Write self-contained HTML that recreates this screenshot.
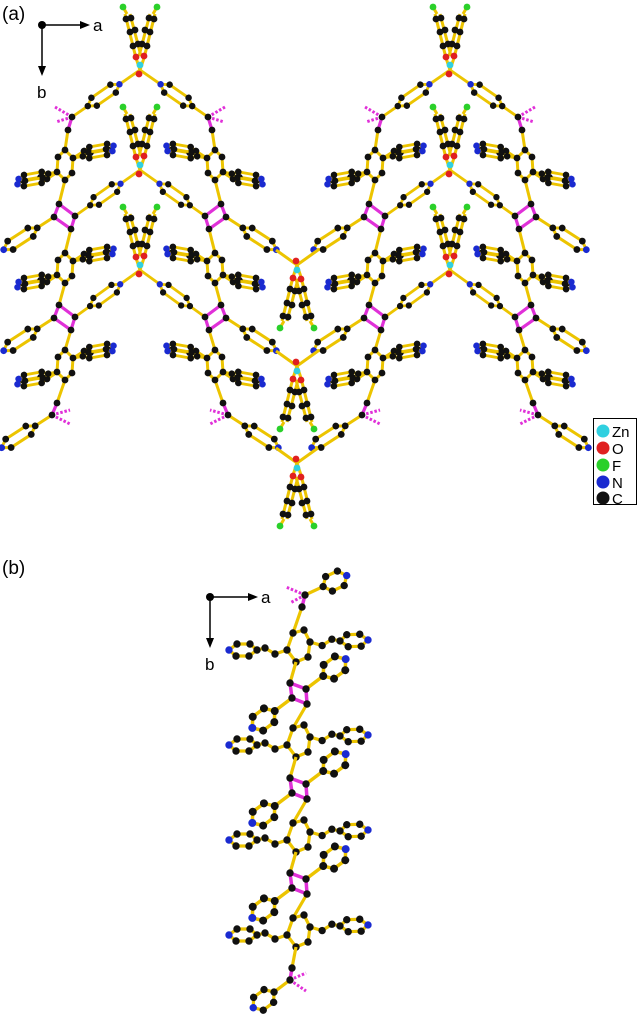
<!DOCTYPE html>
<html><head><meta charset="utf-8"><style>
html,body{margin:0;padding:0;background:#fff}
svg{display:block}
text{font-family:"Liberation Sans",sans-serif;fill:#000}
</style></head><body>
<svg width="637" height="1019" viewBox="0 0 637 1019" xmlns="http://www.w3.org/2000/svg">
<defs>
<g id="pyr">
<line x1="0" y1="0" x2="20" y2="0" stroke="#ecc400" stroke-width="3"/>
<polygon points="20,0 28,-5 52,-5 60,0 52,5 28,5" fill="none" stroke="#ecc400" stroke-width="3"/>
<g fill="#111"><circle cx="20" cy="0" r="3.4"/><circle cx="28" cy="-5" r="3.4"/><circle cx="52" cy="-5" r="3.4"/><circle cx="28" cy="5" r="3.4"/><circle cx="52" cy="5" r="3.4"/></g>
<circle cx="60" cy="0" r="3.4" fill="#1a2ad0"/>
</g>
<g id="pyrZ"><line x1="60" y1="0" x2="86" y2="0" stroke="#ecc400" stroke-width="3"/><use href="#pyr"/></g>
<g id="thin">
<polygon points="10,0 16,-3 34,-3 40,0 34,3 16,3" fill="none" stroke="#ecc400" stroke-width="2.8"/>
<g fill="#111"><circle cx="10" cy="0" r="3.3"/><circle cx="16" cy="-3" r="3.3"/><circle cx="34" cy="-3" r="3.3"/><circle cx="16" cy="3" r="3.3"/><circle cx="34" cy="3" r="3.3"/></g>
<circle cx="40" cy="0" r="3.3" fill="#1a2ad0"/>
</g>
<g id="armA">
<line x1="0" y1="0" x2="12" y2="-5" stroke="#ecc400" stroke-width="2.8"/>
<use href="#thin" transform="translate(2,-5)"/>
<line x1="0" y1="0" x2="10" y2="0" stroke="#ecc400" stroke-width="3"/>
<use href="#thin"/>
</g>
<g id="hexA">
<polygon points="0,-15 8,-7 7,8 0,15 -8,7 -7,-8" fill="none" stroke="#ecc400" stroke-width="3"/>
<use href="#armA" transform="translate(-7,7) rotate(170)"/>
<use href="#armA" transform="translate(8,-7) rotate(-10)"/>
<g fill="#111"><circle cx="0" cy="-15" r="3.4"/><circle cx="8" cy="-7" r="3.4"/><circle cx="7" cy="8" r="3.4"/><circle cx="0" cy="15" r="3.4"/><circle cx="-8" cy="7" r="3.4"/><circle cx="-7" cy="-8" r="3.4"/></g>
</g>
<g id="bbA">
<g stroke="#ecc400" stroke-width="3">
<line x1="3" y1="130" x2="0" y2="150"/><line x1="0" y1="180" x2="-6" y2="204"/><line x1="6" y1="229" x2="0" y2="253"/>
<line x1="0" y1="283" x2="-6" y2="305"/><line x1="6" y1="330" x2="0" y2="350"/><line x1="0" y1="380" x2="-8" y2="403"/>
</g>
<use href="#hexA" y="165"/><use href="#hexA" y="268"/><use href="#hexA" y="365"/>
<use href="#pyr" transform="translate(-11,217) rotate(147)"/>
<use href="#pyr" transform="translate(-11,318) rotate(147)"/>
<use href="#pyr" transform="translate(-13,415) rotate(147)"/>
<use href="#pyrZ" transform="translate(7,117) rotate(-34.6) scale(0.96)"/>
<use href="#pyrZ" transform="translate(10,216) rotate(-35.3) scale(0.93)"/>
<use href="#pyrZ" transform="translate(10,317) rotate(-35.9) scale(0.93)"/>
<g stroke="#e030d8" stroke-width="3.2" fill="none">
<line x1="3" y1="130" x2="7" y2="117"/><line x1="-8" y1="403" x2="-13" y2="415"/>
<polygon points="-6,204 10,216 6,229 -11,217"/><polygon points="-6,305 10,317 6,330 -11,318"/>
</g>
<g stroke="#e030d8" stroke-width="3" stroke-dasharray="2.5,1.8">
<line x1="7" y1="117" x2="-10" y2="107"/><line x1="7" y1="117" x2="-9" y2="122"/>
<line x1="-13" y1="415" x2="5" y2="410"/><line x1="-13" y1="415" x2="5" y2="424"/>
</g>
<g fill="#111">
<circle cx="3" cy="130" r="3.4"/><circle cx="7" cy="117" r="3.4"/><circle cx="-8" cy="403" r="3.4"/><circle cx="-13" cy="415" r="3.4"/>
<circle cx="-6" cy="204" r="3.4"/><circle cx="10" cy="216" r="3.4"/><circle cx="6" cy="229" r="3.4"/><circle cx="-11" cy="217" r="3.4"/>
<circle cx="-6" cy="305" r="3.4"/><circle cx="10" cy="317" r="3.4"/><circle cx="6" cy="330" r="3.4"/><circle cx="-11" cy="318" r="3.4"/>
</g>
</g>
<g id="lig">
<g stroke="#ecc400" stroke-width="3">
<line x1="-4" y1="-12" x2="-15" y2="-56"/><line x1="1" y1="-14" x2="-10" y2="-56"/><line x1="-13" y1="-56" x2="-17" y2="-63"/>
</g>
<g fill="#111"><circle cx="-7" cy="-24" r="3.4"/><circle cx="-2" cy="-26" r="3.4"/><circle cx="-10" cy="-38" r="3.4"/><circle cx="-5" cy="-40" r="3.4"/><circle cx="-14" cy="-51" r="3.4"/><circle cx="-9" cy="-52" r="3.4"/></g>
<circle cx="-17" cy="-63" r="3.4" fill="#2ad02a"/>
</g>
<g id="znT">
<use href="#lig"/><use href="#lig" transform="scale(-1,1)"/>
<g stroke="#ecc400" stroke-width="3"><line x1="-4" y1="-12" x2="0" y2="0"/><line x1="4" y1="-12" x2="0" y2="0"/></g>
<circle cx="-4" cy="-13" r="3.4" fill="#e02020"/><circle cx="4" cy="-14" r="3.4" fill="#e02020"/>
<circle cx="0" cy="-5" r="3.4" fill="#30d0e0"/><circle cx="-1" cy="4" r="3.4" fill="#e02020"/>
</g>
<g id="vA">
<use href="#bbA" x="65"/>
<use href="#bbA" transform="translate(215,0) scale(-1,1)"/>
<use href="#znT" x="140" y="70"/><use href="#znT" x="140" y="170"/><use href="#znT" x="140" y="270"/>
</g>
<g id="znC">
<g stroke="#ecc400" stroke-width="3"><line x1="-21" y1="-15" x2="0" y2="0"/><line x1="21" y1="-15" x2="0" y2="0"/></g>
<use href="#znT" transform="scale(1,-1)"/>
</g>
<g id="pyrB">
<line x1="0" y1="0" x2="20" y2="0" stroke="#ecc400" stroke-width="3.2"/>
<polygon points="20,0 26.5,-8 39.5,-8 46,0 39.5,8 26.5,8" fill="none" stroke="#ecc400" stroke-width="3.2"/>
<g fill="#111"><circle cx="20" cy="0" r="3.7"/><circle cx="26.5" cy="-8" r="3.7"/><circle cx="39.5" cy="-8" r="3.7"/><circle cx="39.5" cy="8" r="3.7"/><circle cx="26.5" cy="8" r="3.7"/></g>
<circle cx="46" cy="0" r="3.7" fill="#1a2ad0"/>
</g>
<g id="armB">
<polyline points="0,0 12,4 22,-2 30,0" fill="none" stroke="#ecc400" stroke-width="3.2"/>
<polygon points="30,0 37,-6 50,-6 58,0 51,6 38,6" fill="none" stroke="#ecc400" stroke-width="3.2"/>
<g fill="#111"><circle cx="12" cy="4" r="3.7"/><circle cx="22" cy="-2" r="3.7"/><circle cx="30" cy="0" r="3.7"/><circle cx="37" cy="-6" r="3.7"/><circle cx="50" cy="-6" r="3.7"/><circle cx="51" cy="6" r="3.7"/><circle cx="38" cy="6" r="3.7"/></g>
<circle cx="58" cy="0" r="3.7" fill="#1a2ad0"/>
</g>
<g id="hexB">
<polygon points="-5,-12 6,-15 12,-3 10,12 -2,17 -11,5" fill="none" stroke="#ecc400" stroke-width="3.2"/>
<use href="#armB" transform="translate(-11,5) scale(-1,1)"/>
<use href="#armB" transform="translate(12,-3) rotate(-2)"/>
<g fill="#111"><circle cx="-5" cy="-12" r="3.7"/><circle cx="6" cy="-15" r="3.7"/><circle cx="12" cy="-3" r="3.7"/><circle cx="10" cy="12" r="3.7"/><circle cx="-2" cy="17" r="3.7"/><circle cx="-11" cy="5" r="3.7"/></g>
</g>
<g id="unitB">
<use href="#hexB"/>
<g stroke="#ecc400" stroke-width="3.2"><line x1="-2" y1="17" x2="-8" y2="38"/><line x1="9" y1="59" x2="-5" y2="83"/></g>
<use href="#pyrB" transform="translate(8,44) rotate(-37) scale(1.08)"/>
<use href="#pyrB" transform="translate(-6,53) rotate(143) scale(1.08)"/>
<polygon points="-8,38 8,44 9,59 -6,53" fill="none" stroke="#e030d8" stroke-width="3.5"/>
<g fill="#111"><circle cx="-8" cy="38" r="3.7"/><circle cx="8" cy="44" r="3.7"/><circle cx="9" cy="59" r="3.7"/><circle cx="-6" cy="53" r="3.7"/></g>
</g>
</defs>

<text x="2" y="20" font-size="19">(a)</text>
<circle cx="42" cy="25" r="4" fill="#000"/>
<line x1="42" y1="25" x2="82" y2="25" stroke="#000" stroke-width="1.5"/><polygon points="90,25 80,21 80,29" fill="#000"/>
<line x1="42" y1="25" x2="42" y2="68" stroke="#000" stroke-width="1.5"/><polygon points="42,76 38,66 46,66" fill="#000"/>
<text x="93" y="31" font-size="17">a</text><text x="37" y="98" font-size="17">b</text>

<use href="#vA"/>
<use href="#vA" x="310"/>
<use href="#znC" x="297" y="265"/><use href="#znC" x="297" y="366"/><use href="#znC" x="297" y="463"/>

<rect x="593.5" y="418.5" width="43" height="86" fill="#fff" stroke="#000"/>
<circle cx="603" cy="431" r="6.5" fill="#30d0e0"/><text x="612" y="437" font-size="15">Zn</text>
<circle cx="603" cy="448" r="6.5" fill="#e02020"/><text x="612" y="454" font-size="15">O</text>
<circle cx="603" cy="465" r="6.5" fill="#2ad02a"/><text x="612" y="471" font-size="15">F</text>
<circle cx="603" cy="482" r="6.5" fill="#1a2ad0"/><text x="612" y="488" font-size="15">N</text>
<circle cx="603" cy="498" r="6.5" fill="#111"/><text x="612" y="504" font-size="15">C</text>

<text x="2" y="574" font-size="19">(b)</text>
<circle cx="210" cy="597" r="4" fill="#000"/>
<line x1="210" y1="597" x2="250" y2="597" stroke="#000" stroke-width="1.5"/><polygon points="258,597 248,593 248,601" fill="#000"/>
<line x1="210" y1="597" x2="210" y2="640" stroke="#000" stroke-width="1.5"/><polygon points="210,648 206,638 214,638" fill="#000"/>
<text x="261" y="603" font-size="17">a</text><text x="205" y="670" font-size="17">b</text>

<g transform="translate(298,0)">
<line x1="4" y1="607" x2="-5" y2="633" stroke="#ecc400" stroke-width="3.2"/>
<use href="#pyrB" transform="translate(7,595) rotate(-25)"/>
<use href="#unitB" y="645"/><use href="#unitB" y="740"/><use href="#unitB" y="835"/>
<use href="#hexB" y="930"/>
<line x1="-2" y1="947" x2="-6" y2="968" stroke="#ecc400" stroke-width="3.2"/>
<use href="#pyrB" transform="translate(-8,980) rotate(143)"/>
<g stroke="#e030d8" stroke-width="3.5"><line x1="4" y1="607" x2="7" y2="595"/><line x1="-6" y1="968" x2="-8" y2="980"/></g>
<g stroke="#e030d8" stroke-width="3" stroke-dasharray="2.5,1.8">
<line x1="7" y1="595" x2="-12" y2="587"/><line x1="7" y1="595" x2="-8" y2="603"/>
<line x1="-8" y1="980" x2="8" y2="973"/><line x1="-8" y1="980" x2="8" y2="991"/>
</g>
<g fill="#111"><circle cx="4" cy="607" r="3.7"/><circle cx="7" cy="595" r="3.7"/><circle cx="-6" cy="968" r="3.7"/><circle cx="-8" cy="980" r="3.7"/></g>
</g>
</svg>
</body></html>
